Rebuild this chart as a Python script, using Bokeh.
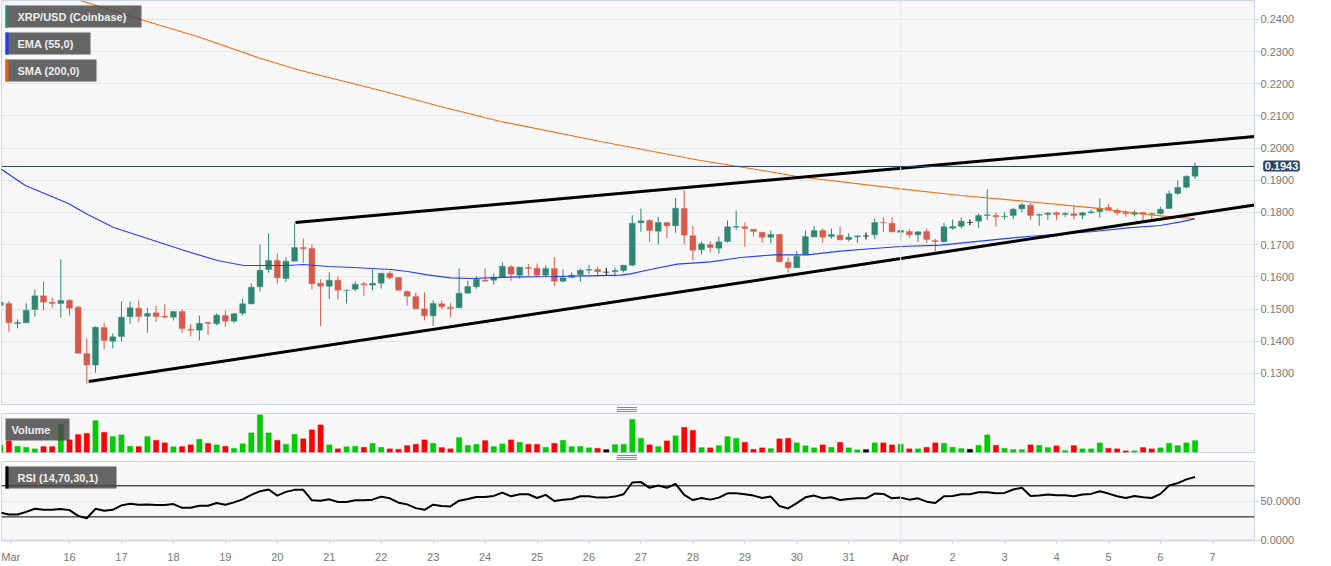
from bokeh.plotting import figure
from bokeh.layouts import column
from bokeh.models import (BoxAnnotation, Label, Span, FixedTicker, Range1d, ColumnDataSource, Div)
from bokeh.embed import file_html
from bokeh.resources import INLINE

opens = [.15112,.15174,.14553,.14574,.14988,.15412,.15216,.15174,.15278,.15061,.13622,.1326,.1443,.14005,.1415,.1476,.1503,.14781,.14885,.14781,
.1475,.14926,.14377,.14346,.14584,.14543,.14802,.14626,.14874,.15164,.15692,.1623,.1651,.15951,.16489,.16913,.16882,.15806,.15713,.15899,
.15578,.1562,.15785,.15744,.15806,.16116,.15982,.15547,.15392,.15009,.14791,.15164,.15061,.1504,.15495,.15692,.15899,.15899,.15992,.16313,
.16054,.16292,.16272,.16054,.16261,.15868,.15982,.16065,.16209,.1623,.16147,.16158,.16199,.16365,.17679,.17752,.1742,.1769,.17586,.18124,
.17276,.16841,.17006,.16893,.171,.17545,.17555,.17483,.17389,.17234,.17317,.16458,.16282,.16696,.17245,.17441,.17255,.17296,.17162,.17245,
.1727,.17307,.1769,.17669,.17389,.1741,.17307,.1741,.17131,.17089,.17514,.17576,.1769,.17731,.17907,.17907,.17865,.17907,.18114,.18228,
.17917,.17938,.1799,.17938,.17959,.17917,.1799,.18031,.18155,.18062,.18,.17948,.18,.17969,.17959,.18124,.1859,.18787,.19128]
highs = [.15485,.15247,.14678,.15174,.15609,.15858,.15361,.16541,.15299,.15112,.14088,.1446,.14574,.14243,.15237,.15237,.15268,.1504,.15102,.15143,
.14926,.14988,.14543,.14802,.14626,.14864,.14957,.14885,.1533,.15795,.17006,.17348,.16727,.16613,.17658,.17193,.17006,.1593,.16137,.16013,
.15609,.15858,.15847,.1623,.16116,.16178,.15995,.15578,.15516,.15516,.15268,.15268,.15185,.16261,.15889,.16013,.16261,.16106,.16447,.16365,
.16303,.16396,.16416,.16354,.16613,.1623,.16137,.16261,.16365,.16303,.16282,.16292,.16365,.17917,.18124,.17793,.17865,.1769,.18455,.18693,
.17576,.171,.171,.17255,.17752,.18062,.1769,.17483,.17389,.17441,.17338,.16613,.16799,.17441,.17586,.17503,.17503,.17565,.17358,.17276,
.17379,.17814,.17845,.17845,.17483,.17483,.1742,.17503,.17182,.17679,.17783,.17845,.17783,.17969,.18714,.18,.1801,.18145,.1829,.183,
.17969,.1801,.18021,.1801,.18217,.18021,.18083,.18435,.18269,.18124,.18062,.18062,.18021,.18,.18176,.18683,.18994,.19149,.19553]
lows = [.15061,.14295,.14398,.14564,.14771,.14957,.1504,.14729,.14802,.13622,.1269,.13022,.13746,.13777,.13995,.14543,.14605,.14264,.14605,.14719,
.14647,.14264,.1415,.14026,.14202,.14491,.1445,.14574,.14802,.1515,.15537,.16127,.15785,.15847,.16489,.16437,.15609,.14471,.15319,.15299,
.15174,.15547,.15412,.15578,.1564,.1592,.15578,.15112,.14999,.14647,.14481,.14988,.1476,.1503,.15474,.1563,.15858,.15754,.15982,.15878,
.1594,.16033,.15982,.15992,.15723,.15826,.15971,.15847,.16096,.16013,.16054,.16013,.16137,.16334,.174,.17089,.17006,.17193,.17369,.17006,
.1651,.16696,.16758,.16717,.17068,.17462,.16934,.17255,.17058,.17037,.16447,.16127,.1627,.16675,.17224,.17058,.17182,.17131,.171,.17058,
.17162,.17182,.17389,.17379,.17162,.17213,.17089,.17058,.16789,.17068,.17462,.17503,.17607,.17524,.17762,.17555,.17783,.17793,.1801,.17772,
.17586,.17772,.17772,.17855,.17783,.17793,.17969,.17834,.18062,.17907,.17865,.17876,.1769,.17772,.17938,.18114,.18549,.18745,.19045]
closes = [.15216,.14574,.14584,.14967,.15412,.15216,.15174,.15268,.1503,.13632,.1326,.1444,.14026,.1414,.1475,.1504,.14771,.14864,.14771,.1475,
.14926,.14398,.14346,.14564,.14553,.14812,.14626,.14854,.15164,.15682,.16209,.1651,.15971,.16489,.16913,.16872,.15785,.15713,.15899,.15588,
.15588,.15775,.15754,.15806,.16116,.15971,.15588,.15402,.15009,.14791,.15174,.15071,.15019,.15495,.15702,.1593,.15868,.15992,.16334,.16085,
.16303,.16261,.16054,.16261,.15868,.15971,.16054,.16209,.1623,.16158,.16147,.16199,.16365,.17669,.17741,.17441,.1769,.17586,.18135,.17296,
.1683,.17027,.16913,.17089,.17555,.17565,.17503,.1741,.17234,.17317,.16468,.16282,.16644,.17255,.17441,.17234,.17317,.17151,.17234,.17276,
.1727,.1769,.17679,.174,.17441,.17307,.174,.17162,.171,.17555,.17565,.17731,.1769,.17907,.17928,.17865,.17886,.18104,.18238,.17907,
.17938,.17979,.17938,.17969,.17907,.1799,.18021,.18135,.18072,.1799,.17959,.18,.17948,.17938,.18104,.1858,.18776,.19128,.19428]

volumes = [22,35,19,16,11,18,18,85,38,54,58,96,61,48,53,19,18,48,37,29,17,18,23,40,28,23,19,13,26,59,113,59,37,25,55,41,68,83,23,11,17,19,16,28,16,11,10,21,25,38,28,15,
11,45,22,25,36,18,26,38,31,25,25,16,28,37,18,19,14,13,9,24,25,100,43,23,18,35,50,76,67,15,14,21,48,43,31,10,14,12,41,43,29,20,14,23,16,31,14,8,9,29,29,23,25,11,11,16,29,28,16,12,10,22,53,22,13,9,9,23,22,15,20,6,21,11,11,29,13,11,5,5,15,11,14,28,21,29,36]
rsi = [35.6,33,33,36.5,40.4,39.1,39.1,40,38.7,31.3,28.3,40.4,37.8,39.1,44.8,47,45.7,46.1,45.2,45.2,46.5,41.7,41.7,44.3,44.3,47.8,45.7,48.7,52.6,58.3,63,65.2,57.4,62.2,64.8,64.8,51.3,50.9,52.6,49.1,49.1,51.3,51.3,52.2,56.1,53.9,48.3,46.1,41.3,39.1,45.7,43.9,43.5,50.9,53,55.7,55.7,57,61.3,56.5,59.1,59.1,54.3,58.3,50.4,52.2,53,56.5,56.5,54.8,54.8,56.1,59.1,74.3,74.8,67.4,70.4,67.4,72.6,58.3,51.7,54.3,52.2,54.8,60.4,60.4,59.1,57.4,54.3,56.1,43.9,40.9,47.8,55.2,57.4,53.9,55.2,51.7,53,53.9,53.9,60,59.6,53.9,54.8,52.2,53.9,49.6,47.8,56.5,57,59.1,59.1,61.7,61.7,60.4,60.9,65.2,67.4,57,57.4,58.7,57.8,57.8,56.5,58.7,59.6,63,60,56.5,54.3,57,55.2,54.3,59.6,70.4,73.5,78.3,81.3]

ema_days = [14.67,15.15,15.98,16.35,16.85,17.56,18.27,18.85,19.35,20.20,20.50,20.99,21.47,22.18,22.51,22.89,23.33,23.72,24.68,25.32,25.97,26.61,26.80,27.18,27.70,28.34,28.92,29.55,30.21,30.84,31.48,32.0,32.77,33.34,34.44,35.72,36.37,37.0,37.39,37.66]
ema_vals = [.19366,.18839,.1828,.17938,.17534,.17161,.16789,.16509,.16354,.16354,.16385,.16323,.16292,.1623,.16168,.16065,.15972,.1595,.16003,.16012,.16034,.16053,.16096,.1623,.16394,.16469,.16602,.16686,.16686,.16798,.16882,.16944,.16984,.17078,.17255,.1741,.17525,.17596,.17711,.17804]
sma_days = [16.21,17.37,18.52,19.68,20.45,21.99,23.14,24.30,26.22,28.15,29.34,30.01,32.0,33.15,34.44,35.71,36.75,37.25,37.66]
sma_vals = [.24584,.23994,.23435,.22783,.2241,.21789,.21292,.20826,.20205,.19615,.19304,.19118,.18736,.18528,.18342,.18146,.17938,.17854,.17814]

lower_trend_days = [16.37,38.81]
lower_trend_vals = [.12752,.18233]
upper_trend_days = [20.35,38.81]
upper_trend_vals = [.17689,.2036]

last_price = 0.1943
price_ticks = [.13,.14,.15,.16,.17,.18,.19,.20,.21,.22,.23,.24]
rsi_ticks = [0,50]
day_ticks = [14.87] + list(range(16,39))
day_labels = ["Mar","16","17","18","19","20","21","22","23","24","25","26","27","28","29","30","31","Apr","2","3","4","5","6","7"]

GREEN, RED = "#2f8672", "#d65b4a"
VG, VR = "#00cc00", "#ff0000"
PANEL = "#f7f7f7"; EDGE = "#ccd6eb"; GRID = "#e6e6e6"; LAB = "#777777"; FONT = "Liberation Sans"
TICK_PX = "11px"
X = (14.691, 38.811)
days = [16 + (i - 8) / 6 for i in range(len(opens))]
kinds = [1 if c > o else (-1 if c < o else 0) for o, c in zip(opens, closes)]
src = ColumnDataSource(dict(
    d=days, o=opens, h=highs, l=lows, c=closes,
    top=[max(a, b) for a, b in zip(opens, closes)],
    bot=[min(a, b) for a, b in zip(opens, closes)],
    col=[{1: GREEN, -1: RED, 0: "#000000"}[k] for k in kinds],
    vcol=[{1: VG, -1: VR, 0: "#000000"}[k] for k in kinds],
    v=volumes, r=rsi))

def base(height, yr, top, bottom):
    p = figure(width=1331, height=height, x_range=Range1d(*X), y_range=Range1d(*yr),
               output_backend="svg", toolbar_location=None,
               min_border_left=1, min_border_right=77, min_border_top=top, min_border_bottom=bottom,
               background_fill_color=PANEL, border_fill_color="white",
               outline_line_color=EDGE, outline_line_width=1, y_axis_location="right", margin=0)
    p.xgrid.visible = False
    p.ygrid.grid_line_color = GRID
    ax = p.yaxis[0]
    ax.axis_line_color = EDGE
    ax.major_tick_line_color = EDGE
    ax.major_tick_out = 5; ax.major_tick_in = 0; ax.minor_tick_line_color = None
    ax.major_label_text_font = FONT; ax.major_label_text_font_size = TICK_PX
    ax.major_label_text_color = LAB; ax.major_label_standoff = 1
    p.add_layout(Span(location=32, dimension="height", line_color=GRID, line_width=1))
    return p

def box(p, l, r, t, b, color, alpha=1.0):
    p.add_layout(BoxAnnotation(left=l, right=r, top=t, bottom=b, left_units="canvas", right_units="canvas",
                               top_units="canvas", bottom_units="canvas", fill_color=color, fill_alpha=alpha,
                               line_color=None, level="overlay"))

def tag(p, l, r, t, b, bar, text, dx=12):
    box(p, l, r, t, b, "#444444", 0.82)
    if bar:
        box(p, l, l + 3, t, b, bar)
    p.add_layout(Label(x=l + dx, y=(t + b) / 2, x_units="canvas", y_units="canvas", text=text,
                       text_font=FONT, text_font_size="11px", text_font_style="bold", text_color="#eeeeee",
                       text_baseline="middle", level="overlay"))

def grip(height, first):
    bars = "".join(f'<div style="position:absolute;left:617px;top:{first + 2 * i}px;width:20px;height:1px;background:#8a8a8a"></div>'
                   for i in range(3))
    return Div(text=bars, width=1331, height=height, margin=0, styles={"position": "relative"})

# ---- price panel
main = base(405, (0.12037, 0.24584), 0, 1)
main.xaxis.visible = False
main.yaxis[0].ticker = FixedTicker(ticks=price_ticks)
main.yaxis[0].formatter.use_scientific = False
main.yaxis[0].major_label_overrides = {t: f"{t:.4f}" for t in price_ticks}
main.segment("d", "h", "d", "l", source=src, color="col", line_width=1)
main.vbar("d", 0.115, "top", "bot", source=src, fill_color="col", line_color="col", line_alpha=0.35, line_width=1)
main.line(sma_days, sma_vals, line_color="#f0701a", line_width=1.2)
main.line(ema_days, ema_vals, line_color="#2340f5", line_width=1.2)
main.line(lower_trend_days, lower_trend_vals, line_color="black", line_width=3)
main.line(upper_trend_days, upper_trend_vals, line_color="black", line_width=3)
main.add_layout(Span(location=last_price, dimension="width", line_color="#2b4367", line_width=1))
tag(main, 5, 141, 5, 27, GREEN, "XRP/USD (Coinbase)")
tag(main, 5, 90, 32, 54, "#1f3cff", "EMA (55,0)")
tag(main, 5, 96, 59, 81, "#e8620c", "SMA (200,0)")
main.add_layout(Label(x=1281, y=165.5, x_units="canvas", y_units="canvas", text=f"{last_price:.4f}",
                      text_font=FONT, text_font_size="11px", text_font_style="bold", text_color="white",
                      text_align="center", text_baseline="middle",
                      background_fill_color="#2b4367", border_line_color="#2b4367", border_line_width=3,
                      padding=0), "right")

# ---- volume panel
vol = base(42, (0, 117), 1, 2)
vol.xaxis.visible = False
vol.ygrid.visible = False
vol.yaxis[0].ticker = FixedTicker(ticks=[])
vol.yaxis[0].major_label_text_font_size = "0px"
vol.vbar("d", 0.105, "v", 0, source=src, fill_color="vcol", line_color="vcol", line_alpha=0.25, line_width=1)
tag(vol, 5, 69, 6, 28, None, "Volume", dx=6)

# ---- RSI panel
rs = base(106, (-0.4, 101.3), 1, 26)
rs.yaxis[0].ticker = FixedTicker(ticks=rsi_ticks)
rs.yaxis[0].major_label_overrides = {t: f"{t:.4f}" for t in rsi_ticks}
rs.line("d", "r", source=src, line_color="black", line_width=2)
for lv in (70, 30):
    rs.add_layout(Span(location=lv, dimension="width", line_color="black", line_width=1))
ax = rs.xaxis[0]
ax.ticker = FixedTicker(ticks=day_ticks)
ax.major_label_overrides = dict(zip(day_ticks, day_labels))
ax.axis_line_color = "#d4d8e4"; ax.axis_line_width = 2
ax.major_tick_line_color = EDGE; ax.major_tick_out = 4; ax.major_tick_in = 0; ax.minor_tick_line_color = None
ax.major_label_text_font = FONT; ax.major_label_text_font_size = TICK_PX; ax.major_label_text_color = LAB
ax.major_label_standoff = 6
tag(rs, 5, 116, 6, 28, "#000000", "RSI (14,70,30,1)")

page = column(main, grip(7, 2), vol, grip(6, 1), rs, spacing=0, margin=0)
open("out.html", "w").write(file_html(page, INLINE))
